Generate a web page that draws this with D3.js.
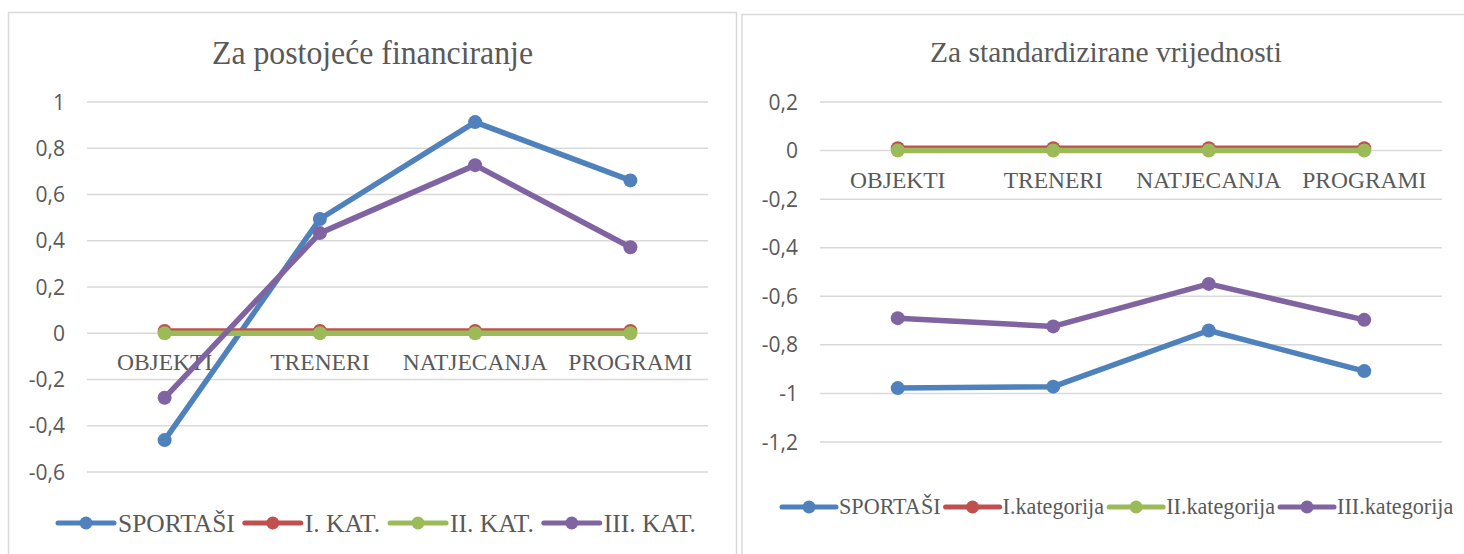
<!DOCTYPE html>
<html>
<head>
<meta charset="utf-8">
<script src="https://cdn.jsdelivr.net/npm/d3@7"></script>
<style>
  body { margin: 0; background: #fff; }
  svg { display: block; }
</style>
</head>
<body>
<div id="chart"></div>
<script>
// categories and series
const categories = ['OBJEKTI', 'TRENERI', 'NATJECANJA', 'PROGRAMI'];

const leftTitle = 'Za postojeće financiranje';
const leftNames = ['SPORTAŠI', 'I. KAT.', 'II. KAT.', 'III. KAT.'];
const leftSportasi = [-0.462, 0.494, 0.913, 0.661];
const leftKat1 = [0.01, 0.01, 0.01, 0.01];
const leftKat2 = [0, 0, 0, 0];
const leftKat3 = [-0.279, 0.433, 0.727, 0.372];
const leftTicks = [1, 0.8, 0.6, 0.4, 0.2, 0, -0.2, -0.4, -0.6];

const rightTitle = 'Za standardizirane vrijednosti';
const rightNames = ['SPORTAŠI', 'I.kategorija', 'II.kategorija', 'III.kategorija'];
const rightSportasi = [-0.978, -0.972, -0.741, -0.908];
const rightKat1 = [0.01, 0.01, 0.01, 0.01];
const rightKat2 = [0, 0, 0, 0];
const rightKat3 = [-0.69, -0.724, -0.549, -0.697];
const rightTicks = [0.2, 0, -0.2, -0.4, -0.6, -0.8, -1, -1.2];

const colors = ['#4f81bd', '#c0504d', '#9bbb59', '#8064a2'];

const svg = d3.select('#chart').append('svg')
  .attr('width', 1464)
  .attr('height', 554);

const serif = '"Liberation Serif", "Times New Roman", serif';
const grey = '#595959';

// squeeze text horizontally like the original rendering
function squeeze(sel, factor) {
  sel.each(function() {
    const w = this.getComputedTextLength();
    d3.select(this).attr('textLength', w * factor).attr('lengthAdjust', 'spacingAndGlyphs');
  });
}

function drawChart(cfg) {
  const g = svg.append('g');

  // frame
  g.append('rect')
    .attr('x', cfg.box[0]).attr('y', cfg.box[1])
    .attr('width', cfg.box[2]).attr('height', cfg.box[3])
    .attr('fill', 'none').attr('stroke', '#d9d9d9').attr('stroke-width', 1.5);

  // title
  g.append('text')
    .attr('x', cfg.titleX).attr('y', cfg.titleY)
    .attr('text-anchor', 'middle')
    .attr('textLength', cfg.titleWidth).attr('lengthAdjust', 'spacingAndGlyphs')
    .style('font-family', serif).style('font-size', cfg.titleSize + 'px')
    .style('fill', grey)
    .text(cfg.title);

  const x = d3.scalePoint().domain(categories).range(cfg.xRange).padding(0.5);
  const y = d3.scaleLinear().domain(cfg.yDomain).range(cfg.yRange);

  // gridlines
  g.append('g').selectAll('line')
    .data(cfg.ticks).enter().append('line')
    .attr('x1', cfg.xRange[0]).attr('x2', cfg.xRange[1])
    .attr('y1', d => y(d)).attr('y2', d => y(d))
    .attr('stroke', '#d9d9d9').attr('stroke-width', 1.5);

  // y axis labels
  const fmt = d3.format('');
  g.append('g').selectAll('text')
    .data(cfg.ticks).enter().append('text')
    .attr('x', cfg.xRange[0] - 22)
    .attr('y', d => y(d) + 7.5)
    .attr('text-anchor', 'end')
    .style('font-family', '"Open Sans", sans-serif').style('font-size', '21px')
    .style('fill', grey)
    .text(d => fmt(d).replace('.', ',').replace('−', '-'));

  // category labels sit below zero line
  g.append('g').selectAll('text')
    .data(categories).enter().append('text')
    .attr('x', d => x(d))
    .attr('y', y(0) + 37)
    .attr('text-anchor', 'middle')
    .style('font-family', serif).style('font-size', '23.5px')
    .style('fill', grey)
    .text(d => d);

  const line = d3.line()
    .x((d, i) => x(categories[i]))
    .y(d => y(d));

  cfg.series.forEach((vals, si) => {
    const sg = g.append('g');
    sg.append('path')
      .datum(vals)
      .attr('d', line)
      .attr('fill', 'none')
      .attr('stroke', colors[si])
      .attr('stroke-width', 5.5)
      .attr('stroke-linejoin', 'round');
    sg.selectAll('circle')
      .data(vals).enter().append('circle')
      .attr('cx', (d, i) => x(categories[i]))
      .attr('cy', d => y(d))
      .attr('r', 7)
      .attr('fill', colors[si]);
  });

  // legend
  const lg = g.append('g');
  let cx = 0;
  cfg.names.forEach((name, i) => {
    const it = lg.append('g');
    it.append('line')
      .attr('x1', cx).attr('x2', cx + cfg.legLine)
      .attr('y1', 0).attr('y2', 0)
      .attr('stroke', colors[i]).attr('stroke-width', 5).attr('stroke-linecap', 'round');
    it.append('circle')
      .attr('cx', cx + cfg.legLine / 2).attr('cy', 0).attr('r', 6.5)
      .attr('fill', colors[i]);
    const tx = it.append('text')
      .attr('x', cx + cfg.legLine + cfg.legPad)
      .attr('y', cfg.legSize * 0.33)
      .style('font-family', serif).style('font-size', cfg.legSize + 'px')
      .style('fill', grey)
      .text(name);
    const w = tx.node().getComputedTextLength() * cfg.legSqueeze;
    squeeze(tx, cfg.legSqueeze);
    cx += cfg.legLine + cfg.legPad + w + cfg.legGap;
  });
  lg.attr('transform', `translate(${cfg.legX},${cfg.legY})`);
}

drawChart({
  box: [8.5, 12.5, 728, 560],
  title: leftTitle, titleX: 372.5, titleY: 64, titleSize: 33, titleWidth: 321,
  xRange: [87, 708], yDomain: [1, -0.6], yRange: [102, 472],
  ticks: leftTicks,
  series: [leftSportasi, leftKat1, leftKat2, leftKat3],
  names: leftNames,
  legLine: 56, legPad: 4, legSize: 26, legSqueeze: 0.98, legGap: 10, legX: 58, legY: 523
});

drawChart({
  box: [742, 14.5, 740, 560],
  title: rightTitle, titleX: 1106, titleY: 62, titleSize: 30, titleWidth: 352,
  xRange: [820, 1442], yDomain: [0.2, -1.2], yRange: [102, 442],
  ticks: rightTicks,
  series: [rightSportasi, rightKat1, rightKat2, rightKat3],
  names: rightNames,
  legLine: 54, legPad: 3, legSize: 22.5, legSqueeze: 0.985, legGap: 5, legX: 782, legY: 507
});
</script>
</body>
</html>
